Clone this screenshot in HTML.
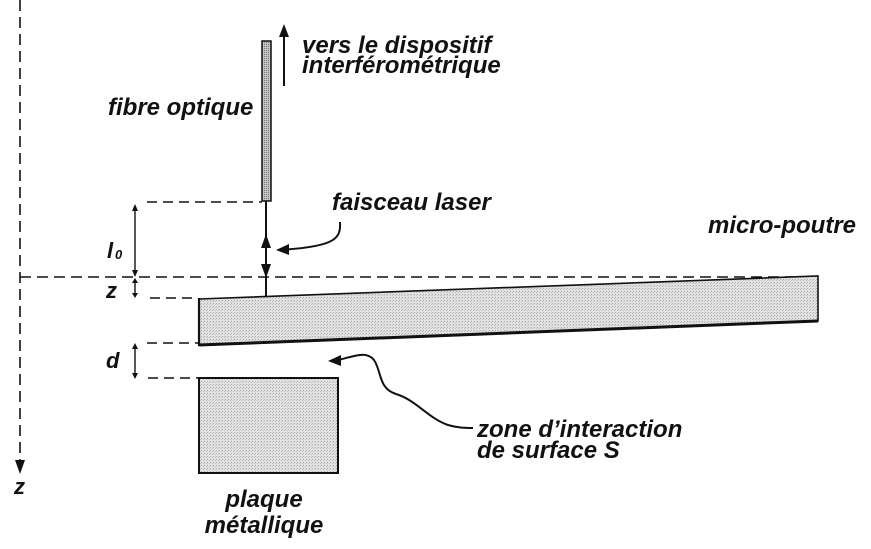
<!DOCTYPE html>
<html>
<head>
<meta charset="utf-8">
<style>
  html, body { margin: 0; padding: 0; background: #fff; }
  svg { display: block; }
  text { font-family: "Liberation Sans", Arial, sans-serif; font-weight: bold; font-style: italic; fill: #111; }
</style>
</head>
<body>
<svg width="871" height="549" viewBox="0 0 871 549" xmlns="http://www.w3.org/2000/svg">
  <defs>
    <pattern id="dots" width="3" height="3" patternUnits="userSpaceOnUse">
      <rect width="3" height="3" fill="#e2e2e2"/>
      <rect x="0" y="0" width="1" height="1" fill="#a8a8a8"/>
      <rect x="2" y="1" width="1" height="1" fill="#bcbcbc"/>
    </pattern>
    <pattern id="dots2" width="2" height="2" patternUnits="userSpaceOnUse">
      <rect width="2" height="2" fill="#c4c4c4"/>
      <rect x="0" y="0" width="1" height="1" fill="#777"/>
    </pattern>
  </defs>

  <!-- left vertical z axis -->
  <line x1="20" y1="0" x2="20" y2="462" stroke="#111" stroke-width="1.6" stroke-dasharray="11,6"/>
  <polygon points="15,460 25,460 20,474" fill="#111"/>
  <text x="14" y="494" font-size="22" font-style="normal">z</text>

  <!-- horizontal dashed reference at y=277 -->
  <line x1="20" y1="277" x2="815" y2="277" stroke="#111" stroke-width="1.6" stroke-dasharray="11,6"/>

  <!-- fiber -->
  <rect x="262" y="41" width="9" height="160" fill="url(#dots2)" stroke="#111" stroke-width="1.5"/>

  <!-- up arrow to interferometer -->
  <line x1="284" y1="86" x2="284" y2="32" stroke="#111" stroke-width="2"/>
  <polygon points="279,37 289,37 284,24" fill="#111"/>
  <text x="302" y="53" font-size="24">vers le dispositif</text>
  <text x="302" y="73" font-size="24">interférométrique</text>

  <text x="108" y="115" font-size="24">fibre optique</text>

  <!-- l0 dashed -->
  <line x1="147" y1="202" x2="262" y2="202" stroke="#111" stroke-width="1.6" stroke-dasharray="10,6"/>
  <!-- l0 dimension arrow -->
  <line x1="135" y1="208" x2="135" y2="272" stroke="#111" stroke-width="1.4"/>
  <polygon points="132,211 138,211 135,204" fill="#111"/>
  <polygon points="132,270 138,270 135,277" fill="#111"/>
  <text x="107" y="258" font-size="22">l</text>
  <text x="115" y="259" font-size="13">0</text>

  <!-- laser beam -->
  <line x1="266" y1="201" x2="266" y2="297" stroke="#111" stroke-width="2"/>
  <polygon points="261,248 271,248 266,234" fill="#111"/>
  <polygon points="261,264 271,264 266,278" fill="#111"/>

  <!-- faisceau laser label + curved arrow -->
  <text x="332" y="210" font-size="24">faisceau laser</text>
  <path d="M340,222 C341,238 336,246 286,249.5" fill="none" stroke="#111" stroke-width="2"/>
  <polygon points="276,250 289,244 289,255" fill="#111"/>

  <!-- z dimension -->
  <line x1="135" y1="281" x2="135" y2="295" stroke="#111" stroke-width="1.4"/>
  <polygon points="132,283 138,283 135,278" fill="#111"/>
  <polygon points="132,293 138,293 135,298" fill="#111"/>
  <line x1="150" y1="298" x2="198" y2="298" stroke="#111" stroke-width="1.6" stroke-dasharray="10,6"/>
  <text x="106" y="298" font-size="22">z</text>

  <!-- micro-beam -->
  <polygon points="199,299 818,276 818,321 199,345" fill="url(#dots)" stroke="#111" stroke-width="1.6"/>
  <line x1="199" y1="345" x2="818" y2="321" stroke="#111" stroke-width="3"/>
  <line x1="199" y1="298" x2="199" y2="346" stroke="#111" stroke-width="2.2"/>
  <text x="708" y="233" font-size="24">micro-poutre</text>

  <!-- d dimension -->
  <line x1="147" y1="343" x2="198" y2="343" stroke="#111" stroke-width="1.6" stroke-dasharray="10,6"/>
  <line x1="148" y1="378" x2="198" y2="378" stroke="#111" stroke-width="1.6" stroke-dasharray="10,6"/>
  <line x1="135" y1="347" x2="135" y2="375" stroke="#111" stroke-width="1.4"/>
  <polygon points="132,349 138,349 135,343" fill="#111"/>
  <polygon points="132,373 138,373 135,379" fill="#111"/>
  <text x="106" y="368" font-size="22">d</text>

  <!-- metal plate -->
  <rect x="199" y="378" width="139" height="95" fill="url(#dots)" stroke="#111" stroke-width="2"/>
  <text x="264" y="507" font-size="24" text-anchor="middle">plaque</text>
  <text x="264" y="533" font-size="24" text-anchor="middle">métallique</text>

  <!-- zone d'interaction curved arrow -->
  <path d="M338,360 C352,357 366,350 374,360 C382,372 378,388 396,394 C416,400 428,418 448,425 C458,428 466,428 473,428" fill="none" stroke="#111" stroke-width="2"/>
  <polygon points="328,361 341,355 341,366" fill="#111"/>
  <text x="477" y="437" font-size="24">zone d’interaction</text>
  <text x="477" y="458" font-size="24">de surface S</text>
</svg>
</body>
</html>
